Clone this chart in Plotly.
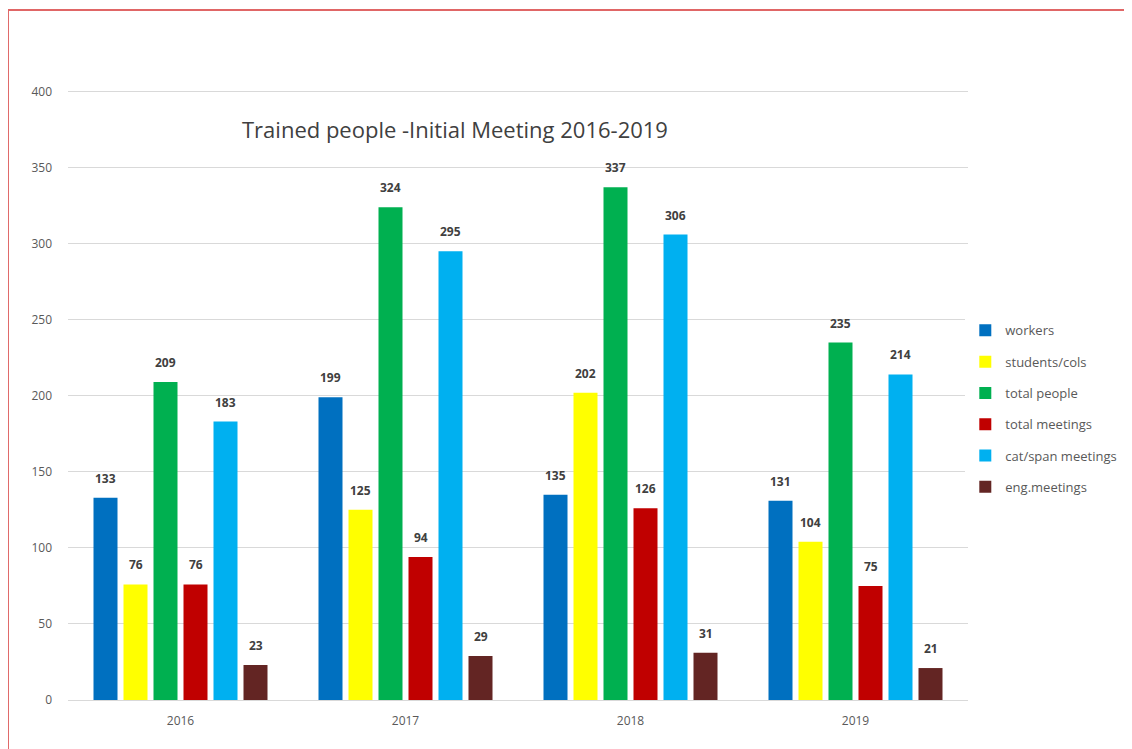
import plotly.graph_objects as go

years = ["2016", "2017", "2018", "2019"]
series_names = ["workers", "students/cols", "total people", "total meetings", "cat/span meetings", "eng.meetings"]
workers = [133, 199, 135, 131]
students = [76, 125, 202, 104]
total_people = [209, 324, 337, 235]
total_meetings = [76, 94, 126, 75]
cat_span = [183, 295, 306, 214]
eng_meetings = [23, 29, 31, 21]
colors = ["#0070C0", "#FFFF00", "#00B050", "#C00000", "#00B0F0", "#632523"]

values = [workers, students, total_people, total_meetings, cat_span, eng_meetings]

W, H = 1124, 741
ML, MR, MT, MB = 60, 164, 82, 49
BARGAP = 0.2
n_series = len(values)
plot_w = W - ML - MR
slot_px = plot_w / len(years) * (1 - BARGAP) / n_series

fig = go.Figure()
annotations = []
for i, (name, vals) in enumerate(zip(series_names, values)):
    fig.add_trace(go.Bar(
        x=years, y=vals, name=name, legendgroup=f"g{i}",
        marker=dict(color=colors[i], line=dict(width=0)),
        cliponaxis=False,
    ))
    for j, v in enumerate(vals):
        annotations.append(dict(
            x=j, y=v, xref="x", yref="y", text=str(v), showarrow=False,
            xanchor="center", yanchor="bottom",
            xshift=(i - (n_series - 1) / 2) * slot_px, yshift=9,
            font=dict(size=12, color="#404040", family="Open Sans", weight="bold"),
        ))

annotations.append(dict(text="Trained people -Initial Meeting 2016-2019", xref="paper", yref="paper",
                        x=0.43, y=0.936, xanchor="center", yanchor="middle", showarrow=False,
                        font=dict(size=22, color="#404040", family="Open Sans")))

fig.update_layout(
    width=W, height=H,
    barmode="group", bargap=BARGAP, bargroupgap=0.2,
    plot_bgcolor="white", paper_bgcolor="white",
    margin=dict(l=ML, r=MR, t=MT, b=MB, autoexpand=False),
    font=dict(family="Open Sans", color="#595959", size=12),
    showlegend=True,
    legend=dict(x=0.997, y=0.6305, xanchor="left", yanchor="top",
                font=dict(size=13, color="#595959"), tracegroupgap=11.4,
                itemwidth=30),
    xaxis=dict(type="category", showgrid=False, showline=False, ticks="", ticklabelstandoff=12,
               tickfont=dict(size=12, color="#595959")),
    yaxis=dict(range=[0, 401], dtick=50, showgrid=True, gridcolor="#d9d9d9", gridwidth=1,
               zeroline=True, zerolinecolor="#d9d9d9", zerolinewidth=1,
               showline=False, ticks="", ticklabelstandoff=15,
               tickfont=dict(size=12, color="#595959")),
    annotations=annotations,
    shapes=[dict(type="rect", xref="paper", yref="paper", x0=-0.0667, x1=1.3, y0=-0.3, y1=1.131,
                 line=dict(color="#E06666", width=2), fillcolor="rgba(0,0,0,0)", layer="above")],
)

fig.write_html("out.html")
